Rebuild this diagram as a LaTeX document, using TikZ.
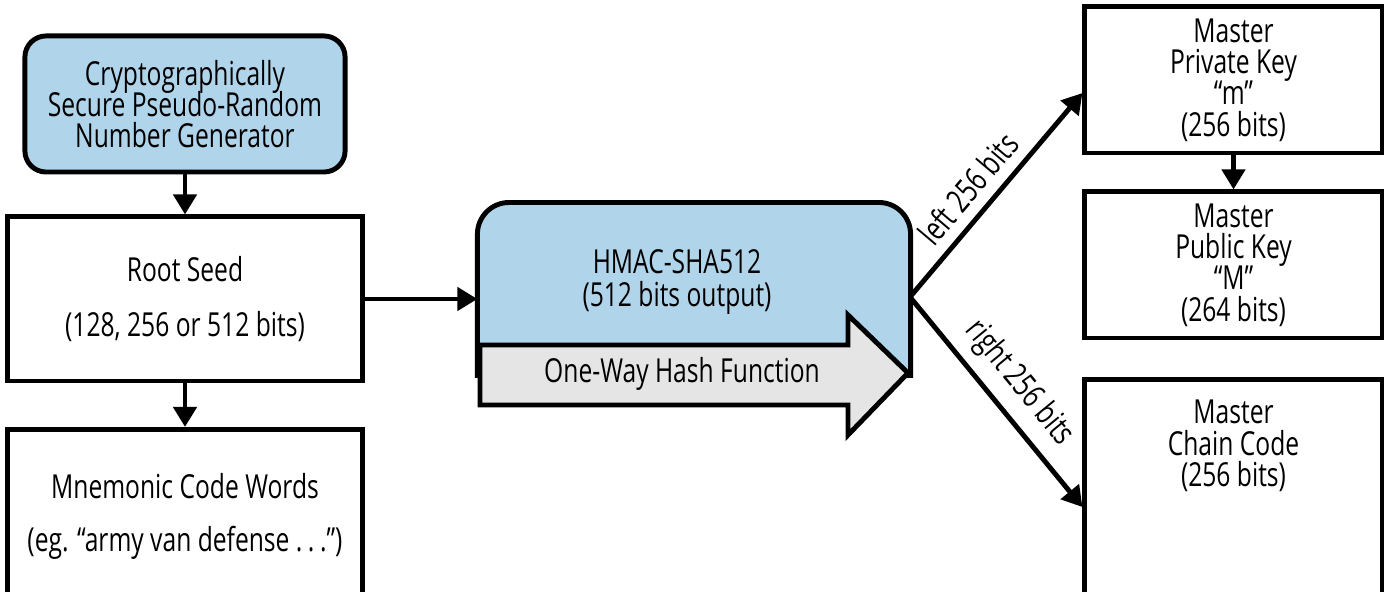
\documentclass[tikz,border=0pt]{standalone}
\usepackage{fontspec}
\setmainfont[FakeStretch=0.745]{Open Sans}
\usepackage{tikz}
\usetikzlibrary{positioning,arrows.meta}
\definecolor{hmacblue}{RGB}{176,212,234}
\definecolor{hashgray}{RGB}{229,229,229}
\tikzset{>={Triangle[length=5.7pt,width=6.5pt]}}
\newcommand\boxfont{\fontsize{9.4}{8.9}\selectfont\lineskiplimit=-20pt\relax}

\begin{document}
\begin{tikzpicture}[x=0.01cm, y=-0.01cm, line width=1.4pt, font=\boxfont]
    \tikzset{%
      segm/.style={fill=white, draw, align=center, inner sep=0pt},
      seedbox/.style={segm, minimum width=3.54cm},
      keybox/.style={segm, minimum width=2.97cm, minimum height=1.46cm},
      lbl/.style={pos=0.5, above, sloped, inner sep=3pt}
      }
     \useasboundingbox (0,0) rectangle (1384,592);

     % left column
     \node [segm, fill=hmacblue, rounded corners=6pt, minimum width=3.2cm, minimum height=1.36cm] (Rng) at (185,104)
           {Cryptographically\\ Secure Pseudo-Random\\ Number Generator};
     \node [seedbox, minimum height=1.64cm] (Seed) at (185,299) {Root Seed\\[6.6pt] (128, 256 or 512 bits)};
     \node [seedbox, minimum height=1.73cm, anchor=north] (Mnem) at (185,427)
           {Mnemonic Code Words\\[6.2pt] (eg. “army van defense .\,.\,.”)};
     \draw [->] (Rng.south) -- (Seed.north);
     \draw [->] (Seed.south) -- (Mnem.north);

     % hash function
     \node [minimum width=4.28cm, minimum height=1.68cm] (Hmac) at (694,289) {};
     \draw [fill=hmacblue] (Hmac.south west) [rounded corners=9pt] -- (Hmac.north west) -- (Hmac.north east)
           [sharp corners] -- (Hmac.south east) -- cycle;
     \draw [fill=hashgray] (480,345) -- (848,345) -- (848,315) -- (908,373) -- (848,435) -- (848,405) -- (480,405) -- cycle;
     \node [align=center] (HmacTxt) at (677,282) {HMAC-SHA512\\[0.5pt] (512 bits output)};
     \node (HashTxt) at (682,374) {One-Way Hash Function};
     \draw [->] (Seed.east) -- (Seed.east -| Hmac.west);

     % master keys
     \node [keybox] (Priv) at (1233.5,80) {Master\\Private Key\\“m”\\(256 bits)};
     \node [keybox] (Pub) at (1233.5,265) {Master\\Public Key\\“M”\\(264 bits)};
     \node [keybox, minimum height=2.3cm, anchor=north] (Chain) at (1233.5,377) {};
     \node [align=center] (ChainTxt) at (1233.5,446) {Master\\Chain Code\\(256 bits)};
     \draw [->] (Priv.south) -- (Pub.north);

     \coordinate (Fork) at (910,297);
     \draw [->] (Fork) -- node [lbl, pos=0.45] {left 256 bits} ([yshift=-0.13cm]Priv.west);
     \draw [->] (Fork) -- node [lbl] {right 256 bits} ([yshift=-1.3cm]Chain.north west);

  \end{tikzpicture}
\end{document}
